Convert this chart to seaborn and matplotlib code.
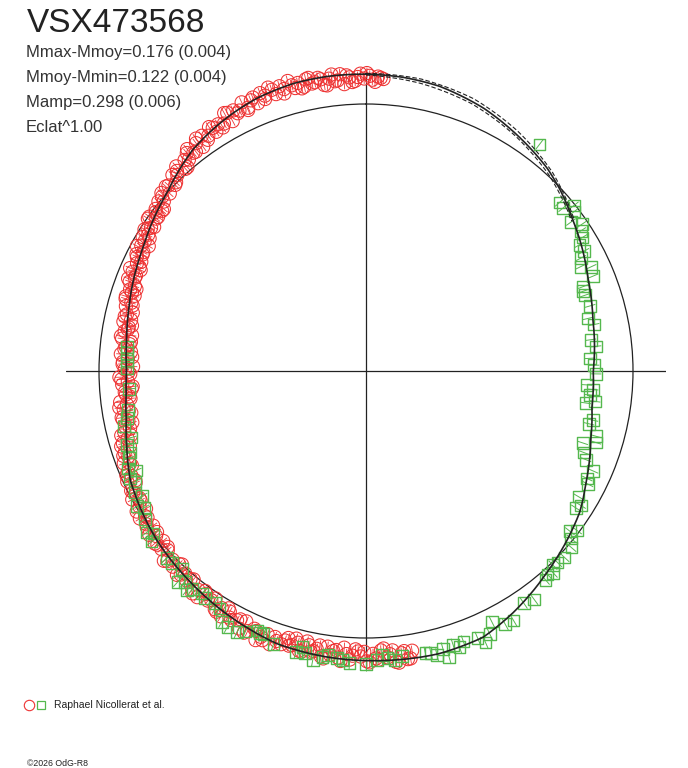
import numpy as np
import matplotlib
matplotlib.use("Agg")
import matplotlib.pyplot as plt
from matplotlib.lines import Line2D
import seaborn as sns

# --- texts ---
STAR = "VSX473568"
STATS = [
    "Mmax-Mmoy=0.176 (0.004)",
    "Mmoy-Mmin=0.122 (0.004)",
    "Mamp=0.298 (0.006)",
    "Eclat^1.00",
]
OBSERVER = "Raphael Nicollerat et al."
CREDIT = "\u00a92026 OdG-R8"

# --- fitted light curve: phase, magnitude relative to mean (mag) ---
fit_phase = [0.000, 0.020, 0.040, 0.067, 0.091, 0.116, 0.130, 0.150, 0.167, 0.188,
             0.215, 0.250, 0.275, 0.297, 0.323, 0.343, 0.365, 0.384, 0.413, 0.434,
             0.460, 0.490, 0.520, 0.550, 0.574, 0.611, 0.642, 0.681, 0.700, 0.718,
             0.735, 0.750, 0.770, 0.790, 0.810, 0.831, 0.848, 0.866, 0.880, 0.894,
             0.910, 0.924, 0.940, 0.961, 0.980, 1.000]
fit_dm = [-0.115, -0.112, -0.105, -0.082, -0.052, -0.020, 0.005, 0.046, 0.076, 0.115,
          0.150, 0.175, 0.168, 0.139, 0.089, 0.045, 0.012, -0.016, -0.063, -0.093,
          -0.097, -0.090, -0.085, -0.078, -0.059, -0.030, -0.008, 0.030, 0.065, 0.095,
          0.112, 0.118, 0.110, 0.093, 0.072, 0.050, 0.025, 0.000, -0.028, -0.055,
          -0.075, -0.090, -0.104, -0.114, -0.116, -0.115]

# uncertainty envelope, only visible in the gap without data
env_phase = [0.000, 0.030, 0.060, 0.090, 0.120, 0.150]
env_bright = [-0.118, -0.116, -0.100, -0.066, -0.022, 0.040]
env_faint = [-0.112, -0.100, -0.080, -0.046, -0.004, 0.052]

# --- observations (red circles) ---
red_phase = [
    0.474, 0.477, 0.480, 0.482, 0.485, 0.488, 0.490, 0.493, 0.496, 0.498, 0.501, 0.503, 0.506, 0.509,
    0.511, 0.514, 0.517, 0.520, 0.522, 0.525, 0.528, 0.531, 0.534, 0.536, 0.539, 0.542, 0.545, 0.548,
    0.551, 0.554, 0.557, 0.560, 0.562, 0.565, 0.568, 0.571, 0.573, 0.576, 0.579, 0.582, 0.585, 0.587,
    0.590, 0.593, 0.596, 0.599, 0.602, 0.604, 0.607, 0.610, 0.613, 0.616, 0.619, 0.621, 0.624, 0.627,
    0.630, 0.633, 0.636, 0.639, 0.641,
    0.644, 0.647, 0.650, 0.653, 0.656, 0.658, 0.661, 0.664, 0.667, 0.670, 0.672, 0.675, 0.678, 0.681,
    0.683, 0.686, 0.689, 0.692, 0.695, 0.698,
    0.701, 0.704, 0.706, 0.709, 0.712, 0.714, 0.717, 0.720, 0.722, 0.725, 0.728, 0.730, 0.733, 0.736,
    0.738, 0.741, 0.743, 0.746, 0.748, 0.751, 0.753, 0.756, 0.758, 0.761, 0.763, 0.766, 0.768, 0.771,
    0.774, 0.776, 0.779, 0.782, 0.784, 0.787, 0.789,
    0.792, 0.795, 0.798, 0.800, 0.803, 0.806, 0.809, 0.811, 0.814, 0.817, 0.820, 0.822, 0.825, 0.828,
    0.831, 0.833, 0.836, 0.839, 0.842, 0.845, 0.847, 0.850, 0.853, 0.856, 0.859, 0.861, 0.864,
    0.867, 0.870, 0.873, 0.876, 0.878, 0.881, 0.884, 0.887, 0.889, 0.892, 0.895, 0.898, 0.900, 0.903,
    0.906, 0.909, 0.911, 0.914, 0.917, 0.920, 0.922, 0.925, 0.928, 0.931, 0.933, 0.936, 0.939, 0.942,
    0.944, 0.947, 0.950, 0.953, 0.955, 0.958, 0.961,
    0.963, 0.966, 0.969, 0.972, 0.974, 0.977, 0.980, 0.983, 0.986, 0.988, 0.991, 0.994, 0.997, 0.999,
    0.002, 0.005, 0.008,
    # second night
    0.4755, 0.4785, 0.4835, 0.4865, 0.4915, 0.4945, 0.4995, 0.5045, 0.5075, 0.5125, 0.5155, 0.5185,
    0.5235, 0.5265, 0.5295, 0.5325, 0.5375, 0.5405, 0.5435, 0.5465,
    0.5525, 0.5585, 0.5635, 0.5695, 0.5745, 0.5805, 0.5835, 0.5885, 0.5945, 0.6005, 0.6055, 0.6115,
    0.6175, 0.6225, 0.6285, 0.6345, 0.6395,
    0.6455, 0.6515, 0.6575, 0.6625, 0.6685, 0.6735, 0.6795, 0.6845, 0.6905, 0.6965,
    0.7025, 0.7075, 0.7105, 0.7155, 0.7185, 0.7235, 0.7265, 0.7315, 0.7345, 0.7395, 0.7445, 0.7495,
    0.7545, 0.7595, 0.7645, 0.7695, 0.7725, 0.7775, 0.7805, 0.7855,
    0.7935, 0.7965, 0.8015, 0.8045, 0.8075, 0.8125, 0.8155, 0.8185, 0.8235, 0.8265, 0.8295, 0.8345,
    0.8375, 0.8405, 0.8435, 0.8485, 0.8515, 0.8545, 0.8575, 0.8625,
    0.8685, 0.8745, 0.8795, 0.8855, 0.8905, 0.8935, 0.8995, 0.9045, 0.9105, 0.9155, 0.9215, 0.9265,
    0.9325, 0.9375, 0.9435, 0.9485, 0.9545, 0.9595,
    0.9645, 0.9675, 0.9705, 0.9755, 0.9785, 0.9815, 0.9845, 0.9895, 0.9925, 0.9955, 0.0005, 0.0035,
    0.0065, 0.0095,
]
red_dm = [
    -0.065, -0.094, -0.069, -0.103, -0.054, -0.079, -0.044, -0.086, -0.063, -0.095, -0.055, -0.073, -0.046, -0.086,
    -0.066, -0.094, -0.054, -0.075, -0.045, -0.086, -0.060, -0.075, -0.039, -0.082, -0.052, -0.067, -0.044, -0.075,
    -0.069, -0.089, -0.055, -0.074, -0.093, -0.055, -0.074, -0.042, -0.079, -0.054, -0.064, -0.038, -0.071, -0.042,
    -0.060, -0.023, -0.047, -0.029, -0.060, -0.035, -0.048, -0.014, -0.036, -0.018, -0.044, 0.000, -0.032, -0.013,
    -0.041, -0.001, -0.017, 0.010, -0.023,
    0.000, -0.019, 0.016, -0.003, 0.016, -0.012, 0.031, 0.012, 0.029, 0.001, 0.025, 0.014, 0.045, 0.016,
    0.042, 0.033, 0.061, 0.032, 0.060, 0.051,
    0.081, 0.056, 0.081, 0.058, 0.103, 0.084, 0.103, 0.077, 0.123, 0.092, 0.109, 0.081, 0.126, 0.106,
    0.139, 0.097, 0.123, 0.086, 0.135, 0.110, 0.148, 0.101, 0.123, 0.090, 0.135, 0.109, 0.125, 0.089,
    0.131, 0.095, 0.110, 0.082, 0.114, 0.090, 0.114,
    0.077, 0.096, 0.065, 0.101, 0.073, 0.088, 0.049, 0.075, 0.056, 0.085, 0.058, 0.072, 0.039, 0.061,
    0.040, 0.069, 0.027, 0.042, 0.026, 0.045, 0.004, 0.032, 0.014, 0.032, -0.004, 0.013, -0.017,
    0.010, -0.016, 0.002, -0.034, -0.020, -0.048, -0.016, -0.045, -0.035, -0.071, -0.042, -0.068, -0.040, -0.078,
    -0.064, -0.090, -0.060, -0.081, -0.072, -0.106, -0.064, -0.099, -0.088, -0.112, -0.084, -0.105, -0.085, -0.117,
    -0.102, -0.126, -0.094, -0.118, -0.103, -0.128, -0.096,
    -0.112, -0.093, -0.122, -0.102, -0.116, -0.086, -0.107, -0.095, -0.119, -0.081, -0.105, -0.091, -0.117, -0.099,
    -0.109, -0.087, -0.103,
    # second night
    -0.093, -0.062, -0.099, -0.068, -0.051, -0.081, -0.091, -0.054, -0.071, -0.042, -0.082, -0.059,
    -0.092, -0.045, -0.071, -0.052, -0.081, -0.038, -0.072, -0.057,
    -0.056, -0.084, -0.060, -0.085, -0.045, -0.059, -0.029, -0.065, -0.038, -0.022, -0.060, -0.021,
    -0.033, -0.007, -0.032, 0.008, -0.018,
    0.013, -0.009, 0.011, -0.008, 0.030, 0.019, 0.049, 0.023, 0.056, 0.041,
    0.045, 0.099, 0.074, 0.119, 0.080, 0.113, 0.074, 0.129, 0.110, 0.144, 0.094, 0.128,
    0.100, 0.142, 0.104, 0.130, 0.082, 0.108, 0.123, 0.083,
    0.105, 0.067, 0.085, 0.099, 0.060, 0.076, 0.040, 0.076, 0.046, 0.063, 0.025, 0.043,
    0.055, 0.017, 0.036, 0.004, 0.034, 0.006, 0.033, -0.005,
    -0.021, -0.003, -0.033, -0.016, -0.060, -0.045, -0.082, -0.052, -0.080, -0.061, -0.101, -0.082,
    -0.076, -0.112, -0.090, -0.114, -0.087, -0.109,
    -0.089, -0.119, -0.099, -0.109, -0.083, -0.121, -0.097, -0.113, -0.087, -0.105, -0.119, -0.095,
    -0.107, -0.099,
]

# --- observations (green squares) ---
green_phase = [
    0.104, 0.136, 0.140, 0.143, 0.146, 0.150, 0.155, 0.158, 0.162, 0.165, 0.170, 0.173, 0.178, 0.181,
    0.187, 0.191, 0.194, 0.197, 0.205, 0.213, 0.218, 0.228, 0.233, 0.241, 0.246, 0.252, 0.260, 0.263,
    0.267, 0.273, 0.271, 0.284, 0.287, 0.294, 0.298, 0.301, 0.307, 0.311, 0.316, 0.322, 0.325, 0.335,
    0.342, 0.339, 0.356, 0.353, 0.359, 0.363, 0.370, 0.375, 0.378, 0.381, 0.384, 0.387, 0.399, 0.405,
    0.415, 0.420, 0.426, 0.430, 0.434, 0.437, 0.445, 0.451, 0.448, 0.457, 0.464, 0.467, 0.461, 0.455,
    0.480, 0.484, 0.488, 0.491, 0.494, 0.500, 0.509, 0.513, 0.516, 0.521, 0.524, 0.529, 0.534, 0.536,
    0.539, 0.552, 0.561, 0.569, 0.559, 0.563, 0.573, 0.579, 0.583, 0.588, 0.592, 0.598, 0.601, 0.607,
    0.609, 0.613, 0.616, 0.619, 0.626, 0.630, 0.643, 0.646, 0.649, 0.656, 0.662, 0.665, 0.669, 0.673,
    0.679, 0.682, 0.685, 0.688, 0.694, 0.697, 0.702, 0.766, 0.762, 0.757, 0.752, 0.738, 0.724, 0.719,
    0.714, 0.706,
]
green_dm = [
    -0.072, 0.043, 0.047, 0.006, 0.018, 0.057, 0.024, 0.043, 0.053, 0.080, 0.077, 0.103, 0.123, 0.080,
    0.088, 0.148, 0.156, 0.153, 0.146, 0.171, 0.149, 0.176, 0.156, 0.189, 0.171, 0.162, 0.203, 0.172,
    0.184, 0.199, 0.157, 0.152, 0.166, 0.120, 0.113, 0.169, 0.148, 0.128, 0.080, 0.089, 0.075, 0.086,
    0.068, 0.057, 0.032, 0.011, 0.008, -0.016, -0.022, -0.015, -0.010, -0.033, -0.023, -0.033, -0.066, -0.054,
    -0.090, -0.085, -0.053, -0.093, -0.115, -0.087, -0.081, -0.080, -0.096, -0.083, -0.087, -0.083, -0.100, -0.120,
    -0.080, -0.092, -0.081, -0.069, -0.087, -0.101, -0.099, -0.090, -0.084, -0.077, -0.087, -0.105, -0.084, -0.064,
    -0.089, -0.084, -0.062, -0.078, -0.061, -0.057, -0.094, -0.093, -0.087, -0.048, -0.039, -0.045, -0.037, -0.045,
    -0.062, -0.044, -0.062, -0.013, -0.024, -0.025, -0.028, -0.002, -0.022, 0.004, 0.025, 0.005, 0.044, 0.024,
    0.044, 0.031, 0.070, 0.041, 0.061, 0.072, 0.071, 0.115, 0.117, 0.119, 0.120, 0.126, 0.110, 0.099,
    0.079, 0.097,
]
red_err = 0.020
green_err = 0.025

RED = "#ee3333"
GREEN = "#55b84e"
INK = "#222222"


def to_polar(phase, dm):
    """phase -> angle (clockwise from top), magnitude -> relative flux (Eclat^1)."""
    theta = 2 * np.pi * np.asarray(phase, dtype=float)
    flux = 10 ** (-0.4 * np.asarray(dm, dtype=float))
    return theta, flux


sns.set_style("white")
plt.rcParams["font.family"] = ["Liberation Sans", "DejaVu Sans"]

fig = plt.figure(figsize=(6.88, 7.68), dpi=100)
ax = fig.add_axes([66 / 688, 97 / 768, 600 / 688, 600 / 768], projection="polar")
ax.set_theta_zero_location("N")
ax.set_theta_direction(-1)
ax.patch.set_alpha(0)

# reference circle (mean magnitude) and the cross
ax.axhline(1.0, color=INK, lw=0.9, zorder=1)
for a in (0, np.pi / 2, np.pi, 3 * np.pi / 2):
    ax.axvline(a, color=INK, lw=0.9, zorder=1)

# observations with radial error ticks
th_r, fl_r = to_polar(red_phase, red_dm)
_, lo_r = to_polar(red_phase, np.asarray(red_dm) + red_err)
_, hi_r = to_polar(red_phase, np.asarray(red_dm) - red_err)
ax.vlines(th_r, lo_r, hi_r, colors=RED, lw=0.6, clip_on=False, zorder=3)
sns.scatterplot(x=th_r, y=fl_r, ax=ax, marker="o", s=90, color=RED,
                facecolors="none", edgecolor=RED, linewidth=0.75,
                clip_on=False, zorder=3, legend=False)

th_g, fl_g = to_polar(green_phase, green_dm)
_, lo_g = to_polar(green_phase, np.asarray(green_dm) + green_err)
_, hi_g = to_polar(green_phase, np.asarray(green_dm) - green_err)
ax.vlines(th_g, lo_g, hi_g, colors=GREEN, lw=0.7, clip_on=False, zorder=4)
sns.scatterplot(x=th_g, y=fl_g, ax=ax, marker="s", s=70, color=GREEN,
                facecolors="none", edgecolor=GREEN, linewidth=1.0,
                clip_on=False, zorder=4, legend=False)

# fitted curve and its envelope
th_f, fl_f = to_polar(fit_phase, fit_dm)
sns.lineplot(x=th_f, y=fl_f, ax=ax, sort=False, estimator=None,
             color=INK, lw=1.2, zorder=5, clip_on=False)
th_e, fl_eb = to_polar(env_phase, env_bright)
_, fl_ef = to_polar(env_phase, env_faint)
sns.lineplot(x=th_e, y=fl_eb, ax=ax, sort=False, estimator=None,
             color=INK, lw=0.8, dashes=(4, 2), zorder=5, clip_on=False)
sns.lineplot(x=th_e, y=fl_ef, ax=ax, sort=False, estimator=None,
             color=INK, lw=0.8, dashes=(4, 2), zorder=5, clip_on=False)
for ln in ax.lines[-3:]:
    ln.get_path()._interpolation_steps = 40

ax.set_ylim(0, 300 / 267)
ax.set_xticks([])
ax.set_yticks([])
ax.grid(False)
ax.spines["polar"].set_visible(False)
ax.set_xlabel("")
ax.set_ylabel("")

# texts
fig.text(27 / 688, 1 - 32 / 768, STAR, fontsize=24, color=INK, va="baseline", ha="left")
for i, s in enumerate(STATS):
    fig.text(26 / 688, 1 - (57 + 25 * i) / 768, s, fontsize=12, color="#333333",
             va="baseline", ha="left")

# observer legend
fig.add_artist(Line2D([29 / 688], [1 - 705 / 768], transform=fig.transFigure, marker="o",
                      ms=7.5, mfc="none", mec=RED, mew=0.8, lw=0))
fig.add_artist(Line2D([41 / 688], [1 - 705 / 768], transform=fig.transFigure, marker="s",
                      ms=6, mfc="none", mec=GREEN, mew=0.9, lw=0))
fig.text(54 / 688, 1 - 705 / 768, OBSERVER, fontsize=7.5, color=INK, va="center", ha="left")
fig.text(27 / 688, 1 - 763 / 768, CREDIT, fontsize=6.3, color=INK, va="center", ha="left")

fig.savefig("out.png", dpi=100)
plt.close(fig)
